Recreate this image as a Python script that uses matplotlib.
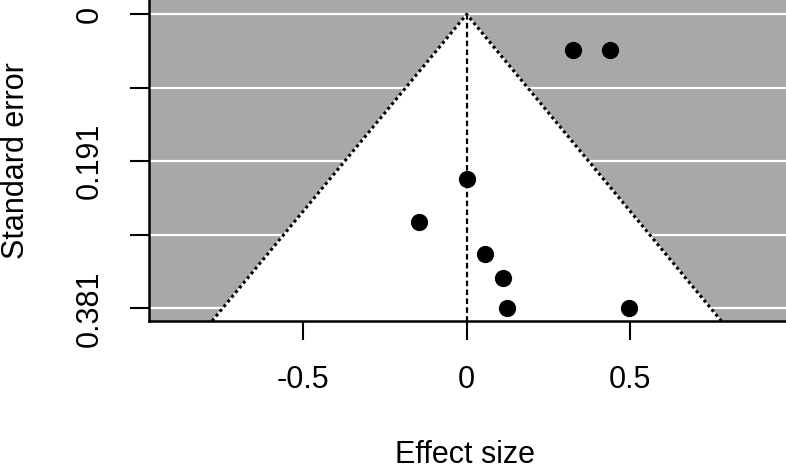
import numpy as np
import matplotlib
matplotlib.use('Agg')
import matplotlib.pyplot as plt

plt.rcParams['font.family'] = ['Liberation Sans', 'DejaVu Sans']
plt.rcParams['font.size'] = 22

# study estimates
effect = [0.325, 0.438, 0.0, -0.147, 0.056, 0.111, 0.123, 0.496]
se = [0.046, 0.046, 0.2135, 0.269, 0.311, 0.342, 0.381, 0.381]

x_ticks = [-0.5, 0, 0.5]
x_labels = ['-0.5', '0', '0.5']
se_max = 0.381
y_ticks = [0, se_max / 4, se_max / 2, 3 * se_max / 4, se_max]
y_labels = ['0', '', '0.191', '', '0.381']

fig = plt.figure(figsize=(7.86, 4.71), dpi=100)
ax = fig.add_axes([149 / 786, 1 - 321 / 471, 1 - 149 / 786, 321 / 471])

ylo, yhi = -0.0185, 0.3975
ax.set_xlim(-0.972, 0.977)
ax.set_ylim(yhi, ylo)
ax.set_facecolor('#a8a8a8')

# grid lines at the y ticks
for t in y_ticks:
    ax.axhline(t, color='white', lw=1.6, zorder=1)

# funnel region (pseudo 95% CI)
z = 1.96
fx = [-z * yhi, 0, z * yhi]
fy = [yhi, 0, yhi]
ax.fill(fx, fy, color='white', zorder=2)
ax.plot(fx, fy, color='black', lw=2.2, ls=(0, (1, 1)), zorder=3)
ax.plot([0, 0], [0, yhi], color='black', lw=1.6, ls=(0, (2.5, 1.5)), zorder=3)

ax.scatter(effect, se, s=130, color='black', zorder=4)

ax.set_xticks(x_ticks)
ax.set_xticklabels(x_labels)
ax.set_yticks(y_ticks)
ax.set_yticklabels(y_labels, rotation=90, va='center')
ax.tick_params(axis='both', length=14, width=1.5, color='black', pad=18)

for s in ['top', 'right']:
    ax.spines[s].set_visible(False)
for s in ['left', 'bottom']:
    ax.spines[s].set_linewidth(1.8)
    ax.spines[s].set_zorder(5)

fig.text(465 / 786, 1 - 455 / 471, 'Effect size', ha='center', va='center')
fig.text(16 / 786, 1 - 161 / 471, 'Standard error', rotation=90,
         ha='center', va='center')

fig.savefig('out.png', dpi=100)
